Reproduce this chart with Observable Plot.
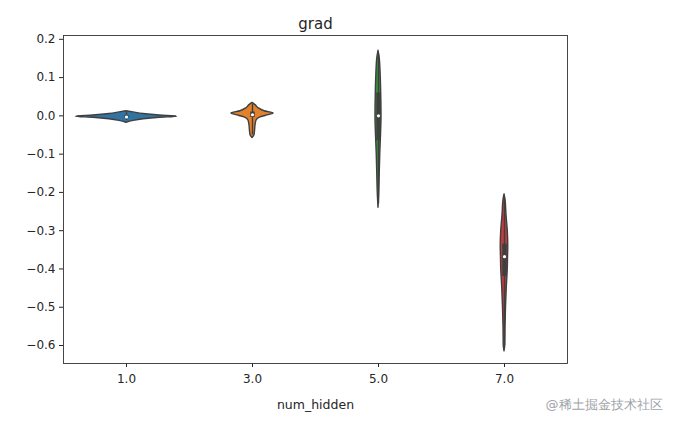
<!DOCTYPE html>
<html><head><meta charset="utf-8">
<script src="https://cdn.jsdelivr.net/npm/d3@7"></script>
<script src="https://cdn.jsdelivr.net/npm/@observablehq/plot@0.6"></script>
<style>body{margin:0;background:#fff}</style>
</head><body><div id="chart"></div>
<script>
const title = "grad";
const xLabel = "num_hidden";
const watermark = "@稀土掘金技术社区";
const categories = ["1.0", "3.0", "5.0", "7.0"];
const catPos = [1, 3, 5, 7];
const colors = ["#3274a1", "#e1812c", "#3a923a", "#c03d3e"];
const yTicks = [-0.6, -0.5, -0.4, -0.3, -0.2, -0.1, 0.0, 0.1, 0.2];

// violin profiles: value levels and relative density (widest violin = 1)
const v1Y = [-0.018, -0.013, -0.009, -0.005, -0.002, 0.001, 0.005, 0.009, 0.012];
const v1D = [0, 0.14, 0.34, 0.66, 1.0, 0.66, 0.34, 0.14, 0];
const v2Y = [-0.058, -0.05, -0.04, -0.025, -0.012, -0.004, 0.002, 0.006, 0.012, 0.02, 0.028, 0.034];
const v2D = [0, 0.04, 0.05, 0.06, 0.08, 0.16, 0.32, 0.42, 0.24, 0.12, 0.06, 0];
const v3Y = [-0.24, -0.2, -0.15, -0.1, -0.05, 0.0, 0.05, 0.1, 0.15, 0.17];
const v3D = [0, 0.015, 0.025, 0.035, 0.05, 0.06, 0.055, 0.045, 0.025, 0];
const v4Y = [-0.615, -0.6, -0.55, -0.5, -0.45, -0.4, -0.37, -0.34, -0.3, -0.26, -0.22, -0.205];
const v4D = [0, 0.015, 0.02, 0.03, 0.045, 0.065, 0.07, 0.075, 0.065, 0.04, 0.02, 0];

// inner box stats
const medians = [-0.003, 0.003, 0.0, -0.368];
const q1s = [-0.006, -0.004, -0.065, -0.42];
const q3s = [0.0, 0.01, 0.06, -0.335];
const whiskLo = [-0.012, -0.05, -0.23, -0.6];
const whiskHi = [0.008, 0.03, 0.16, -0.215];

const profiles = [[v1Y, v1D], [v2Y, v2D], [v3Y, v3D], [v4Y, v4D]];
const rows = [];
profiles.forEach(([ys, ds], i) => ys.forEach((y, j) => rows.push({cat: categories[i], pos: catPos[i], y, d: ds[j]})));
const stats = categories.map((c, i) => ({cat: c, pos: catPos[i], med: medians[i], q1: q1s[i], q3: q3s[i], lo: whiskLo[i], hi: whiskHi[i]}));

const halfBand = 0.8; // widest half-width in x units (band = 2 units)
const gray = "#3f3f3f";

const chart = Plot.plot({
  width: 689, height: 428,
  marginLeft: 63, marginRight: 122, marginTop: 35, marginBottom: 65,
  style: {fontFamily: "DejaVu Sans", fontSize: "12px", color: "#262626", background: "#fff"},
  x: {domain: [0, 8], ticks: catPos, tickFormat: d => categories[catPos.indexOf(d)], label: null, tickSize: 4, tickPadding: 7},
  y: {domain: [-0.647, 0.21], ticks: yTicks, tickFormat: d3.format(".1f"), label: null, tickSize: 4, tickPadding: 4},
  color: {domain: categories, range: colors},
  marks: [
    Plot.areaX(rows, {y: "y", x1: d => d.pos - d.d * halfBand, x2: d => d.pos + d.d * halfBand, z: "cat", fill: "cat", stroke: gray, strokeWidth: 1.4, curve: "monotone-y"}),
    Plot.ruleX(stats, {x: "pos", y1: "lo", y2: "hi", stroke: gray, strokeWidth: 1.4}),
    Plot.ruleX(stats, {x: "pos", y1: "q1", y2: "q3", stroke: gray, strokeWidth: 4.5}),
    Plot.dot(stats, {x: "pos", y: "med", r: 1.6, fill: "white", stroke: null}),
    Plot.frame({stroke: "#333", strokeWidth: 0.9}),
    Plot.text([title], {frameAnchor: "top", dy: -17, fontSize: 15, fill: "#262626"}),
    Plot.text([xLabel], {frameAnchor: "bottom", dy: 45, fontSize: 12.5, fill: "#262626"}),
    Plot.text([watermark], {frameAnchor: "bottom-right", dx: -22, dy: 45, textAnchor: "start", fontSize: 13, fill: "#a0a4a8"})
  ]
});
document.getElementById("chart").appendChild(chart);
</script>
</body></html>
